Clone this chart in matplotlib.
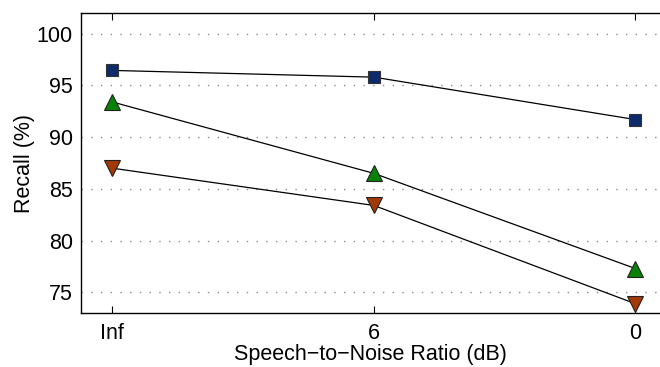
import matplotlib
matplotlib.use("Agg")
import matplotlib.pyplot as plt

plt.rcParams['font.family'] = ['Liberation Sans', 'DejaVu Sans']

# SNR conditions and recall per system
snr_labels = ["Inf", "6", "0"]
recall_square = [96.45, 95.8, 91.7]
recall_up = [93.4, 86.5, 77.3]
recall_down = [87.0, 83.4, 73.9]

x = list(range(len(snr_labels)))

fig = plt.figure(figsize=(6.6, 3.67), dpi=100)
ax = fig.add_axes([0.1227, 0.147, 0.8773, 0.8176])

ax.plot(x, recall_square, color='black', lw=0.9, marker='s', ms=8.5,
        mfc='#0d2a6b', mec='#333333', mew=0.8, zorder=3)
ax.plot(x, recall_up, color='black', lw=0.9, marker='^', ms=11,
        mfc='#078207', mec='#222222', mew=0.8, zorder=3)
ax.plot(x, recall_down, color='black', lw=0.9, marker='v', ms=11,
        mfc='#a33a06', mec='#222222', mew=0.8, zorder=3)

ax.set_xlim(-0.12, 2.094)
ax.set_ylim(73, 102)
ax.set_xticks(x)
ax.set_xticklabels(snr_labels)
ax.set_yticks([75, 80, 85, 90, 95, 100])

ax.yaxis.grid(True, linestyle=(0, (1, 6)), color='#8c8c8c', lw=1.0)
ax.set_axisbelow(True)

ax.spines['right'].set_visible(False)
for s in ['left', 'top', 'bottom']:
    ax.spines[s].set_linewidth(1.0)

ax.tick_params(axis='x', direction='in', top=True, bottom=True, length=5,
               width=0.8, labelsize=15.5, pad=7)
ax.tick_params(axis='y', direction='in', left=False, length=0,
               labelsize=15.5, pad=6)

ax.set_xlabel("Speech\u2212to\u2212Noise Ratio (dB)", fontsize=15.5, labelpad=0)
ax.set_ylabel("Recall (%)", fontsize=15.5, labelpad=1)

fig.savefig("out.png", dpi=100)
